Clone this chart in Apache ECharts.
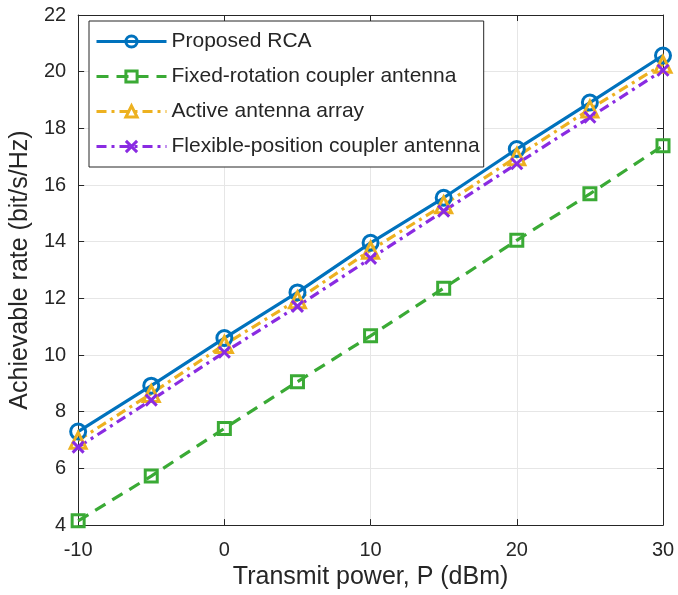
<!DOCTYPE html>
<html>
<head>
<meta charset="utf-8">
<script src="https://cdn.jsdelivr.net/npm/echarts@6/dist/echarts.min.js"></script>
<style>
  html, body { margin: 0; padding: 0; background: #fff; }
  #chart { width: 678px; height: 595px; }
</style>
</head>
<body>
<div id="chart"></div>
<script>
// Transmit power levels (dBm)
const powerDbm = [-10, -5, 0, 5, 10, 15, 20, 25, 30];

// Achievable rate (bit/s/Hz) for each scheme
const rateProposedRCA = [7.30, 8.92, 10.60, 12.21, 13.96, 15.55, 17.27, 18.91, 20.57];
const rateFixedRotation = [4.15, 5.73, 7.41, 9.06, 10.68, 12.36, 14.05, 15.69, 17.39];
const rateActiveArray = [6.99, 8.64, 10.37, 11.95, 13.70, 15.30, 17.00, 18.68, 20.26];
const rateFlexiblePosition = [6.75, 8.41, 10.10, 11.72, 13.41, 15.08, 16.75, 18.39, 20.05];

const seriesNames = [
  'Proposed RCA',
  'Fixed-rotation coupler antenna',
  'Active antenna array',
  'Flexible-position coupler antenna'
];

const FONT = '"Liberation Sans", Arial, Helvetica, sans-serif';
const TEXT = '#262626';
const AXIS = '#262626';
const GRID = '#e6e6e6';

const COLORS = ['#0072BD', '#3AAA35', '#EDB120', '#8A2BE2'];

function pairs(ys) {
  return powerDbm.map((x, i) => [x, ys[i]]);
}

function makeSeries(name, ys, color, symbol, size, dash) {
  return {
    name: name,
    type: 'line',
    data: pairs(ys),
    symbol: symbol,
    symbolSize: size,
    showAllSymbol: true,
    lineStyle: { color: color, width: 3.2, type: dash },
    itemStyle: { color: 'rgba(255,255,255,0)', borderColor: color, borderWidth: 3 },
    emphasis: { disabled: true },
    animation: false
  };
}

const crossPath = 'path://M0,0L10,10M10,0L0,10';

const chart = echarts.init(document.getElementById('chart'), null, { renderer: 'canvas' });

const axisCommon = {
  axisLine: { show: true, onZero: false, lineStyle: { color: AXIS, width: 1 } },
  axisTick: { show: true, inside: true, length: 6, lineStyle: { color: AXIS, width: 1 } }
};

chart.setOption({
  backgroundColor: '#ffffff',
  animation: false,
  grid: { left: 78, right: 15, top: 15, bottom: 67, containLabel: false },
  xAxis: [
    Object.assign({
      type: 'value', min: -10, max: 30, interval: 10,
      name: 'Transmit power, P (dBm)',
      nameLocation: 'middle', nameGap: 36,
      nameTextStyle: { fontFamily: FONT, fontSize: 25, color: TEXT },
      axisLabel: { fontFamily: FONT, fontSize: 20, color: TEXT, margin: 15 },
      splitLine: { show: true, lineStyle: { color: GRID, width: 1 } }
    }, axisCommon),
    Object.assign({
      type: 'value', min: -10, max: 30, interval: 10, position: 'top',
      axisLabel: { show: false }, splitLine: { show: false }
    }, axisCommon)
  ],
  yAxis: [
    Object.assign({
      type: 'value', min: 4, max: 22, interval: 2,
      name: 'Achievable rate (bit/s/Hz)',
      nameLocation: 'middle', nameGap: 43,
      nameTextStyle: { fontFamily: FONT, fontSize: 25, color: TEXT },
      axisLabel: { fontFamily: FONT, fontSize: 20, color: TEXT, margin: 12 },
      splitLine: { show: true, lineStyle: { color: GRID, width: 1 } }
    }, axisCommon),
    Object.assign({
      type: 'value', min: 4, max: 22, interval: 2, position: 'right',
      axisLabel: { show: false }, splitLine: { show: false }
    }, axisCommon)
  ],
  legend: {
    data: seriesNames,
    orient: 'vertical',
    left: 89, top: 21,
    padding: [10, 4, 10, 6],
    itemWidth: 70, itemHeight: 14, itemGap: 14,
    backgroundColor: '#ffffff',
    borderColor: '#262626', borderWidth: 1,
    textStyle: { fontFamily: FONT, fontSize: 21, color: TEXT, lineHeight: 21, padding: [0, 0, 0, 0] },
    itemStyle: { borderWidth: 3 },
    lineStyle: { width: 3 },
    selectedMode: false
  },
  series: [
    makeSeries(seriesNames[0], rateProposedRCA, COLORS[0], 'circle', 15, 'solid'),
    makeSeries(seriesNames[1], rateFixedRotation, COLORS[1], 'rect', 12, [12, 8]),
    makeSeries(seriesNames[2], rateActiveArray, COLORS[2], 'triangle', 16, [10, 5, 3, 5]),
    makeSeries(seriesNames[3], rateFlexiblePosition, COLORS[3], crossPath, 11, [10, 5, 3, 5])
  ]
});
</script>
</body>
</html>
